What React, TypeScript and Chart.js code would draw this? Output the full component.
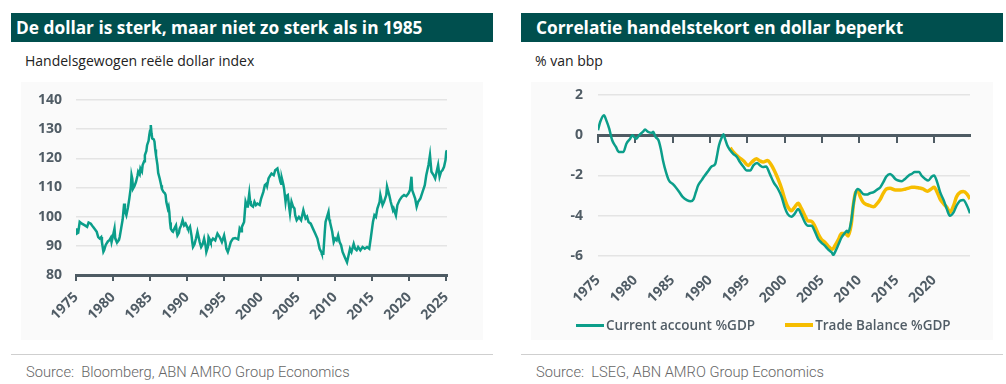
import React, { useEffect, useRef } from 'react';
import { Chart, registerables } from 'chart.js';
Chart.register(...registerables);

// ---------- Left chart: trade-weighted real dollar index ----------
const dxYears = [
  1975.0, 1975.1, 1975.3, 1975.5, 1975.8, 1976.2, 1976.5, 1976.7, 1977.0, 1977.3, 1977.6, 1977.8,
  1978.0, 1978.2, 1978.4, 1978.5, 1978.7, 1978.8, 1979.0, 1979.1, 1979.3, 1979.5, 1979.7, 1979.8,
  1980.0, 1980.2, 1980.3, 1980.4, 1980.6, 1980.8, 1980.9, 1981.1, 1981.3, 1981.5, 1981.6, 1981.8,
  1982.0, 1982.2, 1982.4, 1982.5, 1982.6, 1982.7, 1982.9, 1983.1, 1983.3, 1983.4, 1983.6, 1983.7,
  1983.9, 1984.0, 1984.2, 1984.3, 1984.5, 1984.6, 1984.8, 1984.9, 1985.0, 1985.1, 1985.2, 1985.3,
  1985.5, 1985.6, 1985.7, 1985.8, 1986.0, 1986.1, 1986.3, 1986.5, 1986.6, 1986.8, 1987.0, 1987.1,
  1987.2, 1987.4, 1987.5, 1987.6, 1987.7, 1987.8, 1988.0, 1988.1, 1988.3, 1988.5, 1988.6, 1988.7,
  1988.9, 1989.0, 1989.2, 1989.4, 1989.6, 1989.8, 1990.0, 1990.1, 1990.3, 1990.4, 1990.6, 1990.7,
  1990.8, 1991.0, 1991.2, 1991.4, 1991.6, 1991.7, 1991.9, 1992.1, 1992.3, 1992.5, 1992.6, 1992.8,
  1992.9, 1993.1, 1993.2, 1993.5, 1993.8, 1994.1, 1994.4, 1994.7, 1995.0, 1995.2, 1995.3, 1995.5,
  1995.7, 1995.9, 1996.2, 1996.5, 1996.9, 1997.1, 1997.3, 1997.4, 1997.7, 1997.9, 1998.1, 1998.2,
  1998.4, 1998.5, 1998.6, 1998.9, 1999.1, 1999.3, 1999.5, 1999.8, 2000.0, 2000.3, 2000.5, 2000.7,
  2000.8, 2001.0, 2001.2, 2001.4, 2001.7, 2001.9, 2002.2, 2002.4, 2002.6, 2002.7, 2002.8, 2003.0,
  2003.1, 2003.3, 2003.4, 2003.6, 2003.8, 2003.9, 2004.1, 2004.3, 2004.5, 2004.6, 2004.8, 2005.1,
  2005.4, 2005.7, 2006.0, 2006.2, 2006.4, 2006.7, 2007.0, 2007.3, 2007.6, 2007.9, 2008.1, 2008.2,
  2008.4, 2008.6, 2008.7, 2008.9, 2009.1, 2009.2, 2009.3, 2009.6, 2009.8, 2010.0, 2010.2, 2010.4,
  2010.6, 2010.8, 2011.0, 2011.3, 2011.6, 2011.8, 2012.0, 2012.2, 2012.5, 2012.7, 2012.9, 2013.1,
  2013.4, 2013.7, 2014.0, 2014.3, 2014.6, 2014.8, 2015.1, 2015.3, 2015.5, 2015.7, 2016.0, 2016.1,
  2016.4, 2016.6, 2016.9, 2017.0, 2017.3, 2017.5, 2017.8, 2017.9, 2018.2, 2018.4, 2018.7, 2019.0,
  2019.3, 2019.6, 2019.9, 2020.1, 2020.3, 2020.4, 2020.8, 2021.0, 2021.2, 2021.5, 2021.8, 2022.1,
  2022.3, 2022.6, 2022.8, 2023.0, 2023.3, 2023.5, 2023.7, 2023.9, 2024.1, 2024.3, 2024.5, 2024.7,
  2024.9, 2025.0, 2025.1,
];
const dxValues = [
  96.0, 94.2, 94.5, 98.2, 97.6, 97.0, 96.5, 98.0, 97.6, 96.5, 95.5, 94.8,
  93.0, 92.5, 93.0, 91.3, 88.0, 88.5, 90.2, 90.7, 91.5, 91.9, 92.8, 91.3,
  93.5, 95.9, 92.5, 91.9, 91.3, 92.0, 93.0, 96.0, 99.0, 104.5, 102.0, 100.5,
  103.0, 106.2, 110.0, 114.2, 113.0, 109.6, 110.5, 111.9, 114.0, 115.4, 114.5, 116.5,
  115.5, 117.7, 119.0, 121.1, 122.5, 124.5, 126.0, 128.0, 129.5, 131.4, 128.5, 126.8,
  126.5, 125.7, 123.0, 121.1, 117.7, 115.0, 113.1, 110.8, 109.5, 108.5, 108.0, 107.4,
  105.0, 102.8, 103.5, 101.6, 98.0, 95.9, 95.0, 94.8, 96.0, 97.0, 95.0, 93.6,
  94.5, 95.9, 97.0, 98.8, 97.0, 97.6, 96.5, 95.9, 96.0, 96.5, 93.5, 91.3,
  89.6, 90.5, 92.5, 94.8, 92.5, 91.3, 89.6, 90.5, 92.5, 90.0, 87.9, 89.5,
  93.0, 92.0, 91.3, 92.5, 91.9, 94.2, 93.0, 91.3, 93.6, 91.0, 89.0, 87.9,
  89.5, 91.3, 92.5, 92.7, 92.2, 95.9, 95.0, 96.5, 98.2, 105.1, 103.5, 104.0,
  108.0, 105.5, 104.0, 103.4, 105.1, 104.0, 104.5, 104.0, 106.2, 108.5, 110.8, 111.3,
  110.5, 113.1, 114.0, 114.8, 114.2, 115.9, 116.5, 114.2, 112.0, 111.3, 113.1, 111.0,
  109.6, 105.1, 107.0, 107.4, 103.0, 101.1, 105.1, 103.5, 102.8, 100.5, 98.8, 99.9,
  98.8, 102.2, 99.4, 100.0, 98.2, 97.6, 95.9, 94.2, 92.5, 89.0, 88.0, 87.3,
  87.3, 95.0, 98.2, 99.9, 101.6, 99.0, 98.2, 94.8, 91.3, 92.5, 91.9, 93.6,
  91.3, 90.2, 87.9, 86.1, 84.4, 86.7, 89.0, 87.9, 90.7, 89.0, 88.5, 89.6,
  88.5, 89.6, 89.0, 89.6, 89.0, 92.5, 98.2, 100.5, 99.9, 102.8, 105.1, 107.4,
  104.0, 105.1, 107.4, 110.3, 107.4, 105.1, 102.2, 102.8, 100.5, 104.0, 105.7, 106.8,
  107.4, 107.0, 108.0, 109.1, 113.7, 109.1, 106.2, 103.4, 105.1, 106.2, 108.5, 110.8,
  114.2, 117.7, 121.1, 115.4, 114.2, 113.1, 115.4, 117.7, 113.7, 115.4, 116.0, 117.1,
  119.4, 122.2, 122.8,
];
const dxYTicks = [80, 90, 100, 110, 120, 130, 140];
const dxXTicks = [1975, 1980, 1985, 1990, 1995, 2000, 2005, 2010, 2015, 2020, 2025];

// ---------- Right chart: current account and trade balance, % of GDP ----------
const caYears = [
  1975.0, 1975.3, 1975.8, 1976.1, 1976.5, 1976.9, 1977.4, 1977.8, 1978.4, 1978.8, 1979.3, 1979.6,
  1980.1, 1980.5, 1981.0, 1981.3, 1981.7, 1982.2, 1982.4, 1982.7, 1983.1, 1983.4, 1983.7, 1984.1,
  1984.5, 1985.0, 1985.4, 1985.9, 1986.3, 1986.9, 1987.4, 1987.8, 1988.1, 1988.4, 1988.9, 1989.3,
  1989.8, 1990.2, 1990.7, 1990.9, 1991.2, 1991.6, 1991.8, 1992.0, 1992.3, 1992.7, 1993.1, 1993.6,
  1994.0, 1994.5, 1994.9, 1995.4, 1995.8, 1996.3, 1996.7, 1997.1, 1997.5, 1998.0, 1998.5, 1999.1,
  1999.6, 2000.0, 2000.4, 2000.9, 2001.3, 2001.8, 2002.2, 2002.7, 2003.1, 2003.6, 2004.0, 2004.5,
  2004.9, 2005.4, 2005.8, 2006.3, 2006.5, 2006.7, 2007.2, 2007.6, 2008.1, 2008.3, 2008.5, 2008.9,
  2009.2, 2009.5, 2009.8, 2010.1, 2010.5, 2011.0, 2011.4, 2011.9, 2012.3, 2012.8, 2013.2, 2013.6,
  2014.1, 2014.4, 2014.8, 2015.2, 2015.7, 2016.1, 2016.6, 2017.0, 2017.4, 2018.0, 2018.3, 2018.8,
  2019.2, 2019.7, 2020.0, 2020.4, 2020.8, 2021.3, 2021.7, 2022.1, 2022.6, 2023.0, 2023.5, 2023.9,
  2024.4, 2024.8,
];
const caValues = [
  0.25, 0.67, 1.0, 0.75, 0.33, -0.25, -0.58, -0.83, -0.83, -0.42, -0.17, 0.0,
  -0.17, 0.0, 0.17, 0.28, 0.17, 0.12, 0.17, -0.08, -0.25, -0.67, -1.25, -1.83,
  -2.25, -2.42, -2.58, -2.83, -3.05, -3.22, -3.28, -3.17, -2.83, -2.5, -2.22, -2.0,
  -1.75, -1.55, -1.42, -1.08, -0.5, -0.08, 0.05, -0.17, -0.5, -0.75, -0.92, -1.08,
  -1.33, -1.58, -1.75, -1.75, -1.5, -1.38, -1.5, -1.58, -1.55, -1.92, -2.33, -2.67,
  -3.08, -3.58, -3.92, -4.05, -3.92, -3.67, -3.92, -4.33, -4.5, -4.5, -4.75, -5.17,
  -5.33, -5.5, -5.67, -5.83, -5.95, -5.83, -5.42, -5.08, -4.83, -4.75, -4.83, -4.25,
  -3.42, -2.83, -2.67, -2.75, -2.92, -2.95, -2.88, -2.83, -2.72, -2.58, -2.33, -2.05,
  -1.92, -2.0, -2.17, -2.25, -2.28, -2.17, -2.0, -1.92, -1.83, -1.83, -2.0, -2.17,
  -2.25, -2.05, -2.0, -2.33, -2.83, -3.25, -3.67, -4.0, -3.83, -3.5, -3.25, -3.22,
  -3.5, -3.88,
];
const tbYears = [
  1992.7, 1993.1, 1993.8, 1994.5, 1995.1, 1995.6, 1996.2, 1996.7, 1997.1, 1997.7, 1998.1, 1998.6,
  1999.1, 1999.6, 2000.0, 2000.4, 2000.9, 2001.3, 2001.8, 2002.2, 2002.7, 2003.1, 2003.6, 2004.0,
  2004.5, 2004.9, 2005.4, 2005.8, 2006.4, 2006.7, 2007.2, 2007.6, 2008.1, 2008.5, 2008.9, 2009.2,
  2009.5, 2009.8, 2010.1, 2010.5, 2011.0, 2011.4, 2011.9, 2012.3, 2012.8, 2013.2, 2013.6, 2014.1,
  2014.8, 2015.5, 2016.1, 2016.6, 2017.0, 2017.4, 2018.0, 2018.5, 2019.1, 2019.6, 2020.0, 2020.4,
  2020.8, 2021.3, 2021.7, 2022.1, 2022.6, 2023.0, 2023.5, 2023.9, 2024.4, 2024.8,
];
const tbValues = [
  -0.62, -0.83, -1.08, -1.28, -1.5, -1.33, -1.17, -1.28, -1.33, -1.25, -1.42, -1.75,
  -2.17, -2.67, -3.17, -3.55, -3.75, -3.58, -3.38, -3.62, -4.0, -4.25, -4.28, -4.5,
  -4.92, -5.17, -5.33, -5.5, -5.67, -5.5, -5.17, -4.88, -4.88, -5.0, -4.42, -3.42,
  -2.83, -2.75, -3.05, -3.33, -3.45, -3.5, -3.55, -3.42, -3.17, -2.88, -2.67, -2.63,
  -2.72, -2.72, -2.68, -2.63, -2.58, -2.58, -2.62, -2.67, -2.78, -2.67, -2.58, -2.83,
  -3.17, -3.42, -3.58, -3.83, -3.5, -3.05, -2.83, -2.8, -2.92, -3.17,
];
const balYTicks = [-6, -4, -2, 0, 2];
const balXTicks = [1975, 1980, 1985, 1990, 1995, 2000, 2005, 2010, 2015, 2020];
const caLabel = 'Current account %GDP';
const tbLabel = 'Trade Balance %GDP';

// ---------- styling ----------
const TEAL = '#0b9e8a';
const YELLOW = '#f6bd00';
const AXIS = '#4e5b63';
const GRID = '#e4e4e4';
const LABEL = '#505c65';
const HEADER = '#004f4e';
const FONT = "'Open Sans', sans-serif";
const tickFont = { family: FONT, size: 14, weight: '700' as const };

const toPoints = (xs: number[], ys: number[]) => xs.map((x, i) => ({ x, y: ys[i] }));
const setTicks = (vals: number[]) => (scale: any) => {
  scale.ticks = vals.map((v) => ({ value: v }));
};

function leftConfig(): any {
  return {
    type: 'line',
    data: {
      datasets: [
        {
          label: 'Dollar index',
          data: toPoints(dxYears, dxValues),
          borderColor: TEAL,
          backgroundColor: TEAL,
          borderWidth: 2.5,
          pointRadius: 0,
          tension: 0,
        },
      ],
    },
    options: {
      animation: false,
      responsive: false,
      devicePixelRatio: 1,
      layout: { padding: { top: 18, right: 36, left: 0, bottom: 0 } },
      plugins: { legend: { display: false }, tooltip: { enabled: false } },
      scales: {
        x: {
          type: 'linear',
          min: 1975,
          max: 2025.1,
          afterBuildTicks: setTicks(dxXTicks),
          afterFit: (s: any) => {
            s.height = 65;
          },
          ticks: {
            minRotation: 45,
            maxRotation: 45,
            padding: 8,
            font: tickFont,
            color: LABEL,
            callback: (v: any) => String(v),
          },
          grid: { drawOnChartArea: false, drawTicks: true, tickLength: 6, color: AXIS, lineWidth: 2 },
          border: { display: true, color: AXIS, width: 3 },
        },
        y: {
          min: 80,
          max: 140,
          afterBuildTicks: setTicks(dxYTicks),
          afterFit: (s: any) => {
            s.width = 55;
          },
          ticks: { padding: 2, font: tickFont, color: LABEL, callback: (v: any) => String(v) },
          grid: { color: GRID, lineWidth: 1.5, drawTicks: true, tickLength: 12, tickColor: 'rgba(0,0,0,0)' },
          border: { display: false },
        },
      },
    },
  };
}

function rightConfig(): any {
  return {
    type: 'line',
    data: {
      datasets: [
        {
          label: caLabel,
          data: toPoints(caYears, caValues),
          borderColor: TEAL,
          backgroundColor: TEAL,
          borderWidth: 2.5,
          pointRadius: 0,
          cubicInterpolationMode: 'monotone',
        },
        {
          label: tbLabel,
          data: toPoints(tbYears, tbValues),
          borderColor: YELLOW,
          backgroundColor: YELLOW,
          borderWidth: 3.5,
          pointRadius: 0,
          cubicInterpolationMode: 'monotone',
        },
      ],
    },
    options: {
      animation: false,
      responsive: false,
      devicePixelRatio: 1,
      layout: { padding: { top: 13, right: 23, left: 0, bottom: 0 } },
      plugins: {
        tooltip: { enabled: false },
        legend: { display: false },
      },
      scales: {
        x: {
          type: 'linear',
          min: 1975,
          max: 2024.8,
          afterBuildTicks: setTicks(balXTicks),
          afterFit: (s: any) => {
            s.height = 84;
          },
          ticks: {
            minRotation: 45,
            maxRotation: 45,
            padding: 16,
            font: tickFont,
            color: LABEL,
            callback: (v: any) => String(v),
          },
          grid: { display: false, drawTicks: false },
          border: { display: false },
        },
        x0: {
          type: 'linear',
          axis: 'x',
          position: { y: 0 },
          min: 1975,
          max: 2024.8,
          afterBuildTicks: setTicks(balXTicks),
          ticks: { display: false },
          grid: { drawOnChartArea: false, drawTicks: true, tickLength: 6, color: AXIS, lineWidth: 2 },
          border: { display: true, color: AXIS, width: 3 },
        },
        y: {
          min: -6,
          max: 2,
          afterBuildTicks: setTicks(balYTicks),
          afterFit: (s: any) => {
            s.width = 67;
          },
          ticks: { padding: 2, font: tickFont, color: LABEL, callback: (v: any) => String(v) },
          grid: { color: GRID, lineWidth: 1.5, drawTicks: true, tickLength: 13, tickColor: 'rgba(0,0,0,0)' },
          border: { display: false },
        },
      },
    },
  };
}

function ChartBox(props: { make: () => any; left: number; top: number; width: number; height: number }) {
  const ref = useRef<HTMLCanvasElement | null>(null);
  useEffect(() => {
    const chart = new Chart(ref.current as HTMLCanvasElement, props.make());
    return () => chart.destroy();
  }, []);
  return (
    <div
      style={{
        position: 'absolute',
        left: props.left,
        top: props.top,
        width: props.width,
        height: props.height,
        background: '#fafafa',
      }}
    >
      <canvas ref={ref} width={props.width} height={props.height} style={{ display: 'block' }} />
    </div>
  );
}

function LegendItem(props: { color: string; thickness: number; label: string }) {
  return (
    <div style={{ display: 'flex', alignItems: 'center', marginRight: 30 }}>
      <div style={{ width: 28, height: props.thickness, background: props.color, marginRight: 2 }} />
      <span
        style={{
          fontFamily: FONT,
          fontWeight: 600,
          fontSize: 13.5,
          color: LABEL,
          whiteSpace: 'nowrap',
          lineHeight: '18px',
        }}
      >
        {props.label}
      </span>
    </div>
  );
}

function Panel(props: {
  x: number;
  title: string;
  titlePad: number;
  subtitle: string;
  source: string;
  make: () => any;
  legend?: boolean;
}) {
  const { x } = props;
  return (
    <>
      <div
        style={{
          position: 'absolute',
          left: x,
          top: 13,
          width: 482,
          height: 29,
          background: HEADER,
          color: '#fff',
          fontFamily: FONT,
          fontWeight: 700,
          fontSize: 17.3,
          lineHeight: '29px',
          paddingLeft: props.titlePad,
          boxSizing: 'border-box',
          whiteSpace: 'nowrap',
        }}
      >
        {props.title}
      </div>
      <div
        style={{
          position: 'absolute',
          left: x + 14,
          top: 51,
          fontFamily: FONT,
          fontSize: 14,
          color: '#222',
          whiteSpace: 'nowrap',
        }}
      >
        {props.subtitle}
      </div>
      <ChartBox make={props.make} left={x + 10} top={82} width={462} height={258} />
      {props.legend ? (
        <div style={{ position: 'absolute', left: x + 55, top: 316, display: 'flex' }}>
          <LegendItem color={TEAL} thickness={3} label={caLabel} />
          <LegendItem color={YELLOW} thickness={4} label={tbLabel} />
        </div>
      ) : null}
      <div style={{ position: 'absolute', left: x, top: 354, width: 482, height: 1, background: '#cfcfcf' }} />
      <div
        style={{
          position: 'absolute',
          left: x + 15,
          top: 363,
          fontFamily: 'Roboto, sans-serif',
          fontWeight: 300,
          fontSize: 14.7,
          color: '#666',
          whiteSpace: 'pre',
        }}
      >
        {props.source}
      </div>
    </>
  );
}

export default function App() {
  return (
    <div style={{ position: 'absolute', left: 0, top: 0, width: 1006, height: 384, background: '#fff', overflow: 'hidden' }}>
      <Panel
        x={11}
        title="De dollar is sterk, maar niet zo sterk als in 1985"
        titlePad={5}
        subtitle="Handelsgewogen reële dollar index"
        source="Source:  Bloomberg, ABN AMRO Group Economics"
        make={leftConfig}
      />
      <Panel
        x={521}
        title="Correlatie handelstekort en dollar beperkt"
        titlePad={15}
        subtitle="% van bbp"
        source="Source:  LSEG, ABN AMRO Group Economics"
        make={rightConfig}
        legend
      />
    </div>
  );
}
